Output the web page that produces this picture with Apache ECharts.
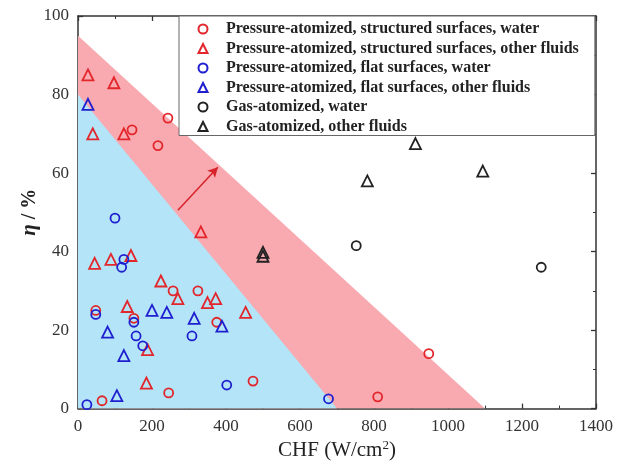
<!DOCTYPE html>
<html>
<head>
<meta charset="utf-8">
<script src="https://cdn.jsdelivr.net/npm/echarts@6/dist/echarts.min.js"></script>
<style>
  html, body { margin: 0; padding: 0; background: #fff; }
  #chart { width: 625px; height: 466px; }
</style>
</head>
<body>
<div id="chart"></div>
<script>
// Spray cooling efficiency vs critical heat flux
const xTicks = [0, 200, 400, 600, 800, 1000, 1200, 1400];
const yTicks = [0, 20, 40, 60, 80, 100];

// Region boundaries [CHF, eta]
const pinkBoundary = [[0, 95], [1100, 0]];
const blueBoundary = [[0, 80], [700, 0]];
const arrowFrom = [270, 50.5];
const arrowTo = [378, 61.5];

// Pressure-atomized, structured surfaces, water
const pStructWater = [
  [146, 71], [243, 74], [216, 67], [48, 25], [257, 30], [324, 30],
  [151, 23], [375, 22], [245, 4], [65, 2], [473, 7], [948, 14], [810, 3]
];
// Pressure-atomized, structured surfaces, other fluids
const pStructOther = [
  [27, 85], [97, 83], [40, 70], [124, 70], [332, 45], [45, 37], [89, 38],
  [143, 39], [224, 32.5], [270, 28], [133, 26], [188, 15], [185, 6.5],
  [372, 28], [350, 27], [453, 24.5]
];
// Pressure-atomized, flat surfaces, water
const pFlatWater = [
  [100, 48.5], [124, 38], [118, 36], [48, 24], [151, 22], [157, 18.5],
  [175, 16], [308, 18.5], [24, 1], [402, 6], [677, 2.5]
];
// Pressure-atomized, flat surfaces, other fluids
const pFlatOther = [
  [27, 77.5], [80, 19.5], [200, 25], [240, 24.5], [314, 23], [124, 13.5],
  [105, 3.3], [389, 21]
];
// Gas-atomized, water
const gasWater = [[752, 41.5], [1252, 36]];
// Gas-atomized, other fluids
const gasOther = [[912, 67.5], [782, 58], [1094, 60.5], [500, 39.8], [500, 38.8]];

const seriesNames = [
  'Pressure-atomized, structured surfaces, water',
  'Pressure-atomized, structured surfaces, other fluids',
  'Pressure-atomized, flat surfaces, water',
  'Pressure-atomized, flat surfaces, other fluids',
  'Gas-atomized, water',
  'Gas-atomized, other fluids'
];

const RED = '#e2262b', BLUE = '#1f1fd0', BLACK = '#222';
const SERIF = '"Liberation Serif", "Times New Roman", serif';

function scatter(name, data, color, symbol) {
  return {
    name, type: 'scatter', data, symbol,
    symbolSize: symbol === 'triangle' ? 11 : 9,
    itemStyle: { color: 'rgba(0,0,0,0)', borderColor: color, borderWidth: 1.8, opacity: 1 },
    z: 5
  };
}

function axisCommon(show) {
  return {
    type: 'value',
    axisLine: { show: true, onZero: false, lineStyle: { color: '#333', width: 1.5 } },
    axisTick: { show: true, inside: true, length: 5, lineStyle: { color: '#333', width: 1.3 } },
    minorTick: { show: true, splitNumber: 2, length: 3, lineStyle: { color: '#333', width: 1 } },
    splitLine: { show: false },
    axisLabel: { show: show, fontFamily: SERIF, fontSize: 17, color: '#333', formatter: v => String(v) }
  };
}

const chart = echarts.init(document.getElementById('chart'), null, { renderer: 'canvas' });

chart.setOption({
  animation: false,
  backgroundColor: '#fff',
  grid: { left: 78, right: 29, top: 16, bottom: 57 },
  xAxis: [
    Object.assign(axisCommon(true), {
      position: 'bottom', min: xTicks[0], max: xTicks[xTicks.length - 1], interval: 200,
      name: 'CHF (W/cm{sup|2})', nameLocation: 'middle', nameGap: 28,
      nameTextStyle: {
        fontFamily: SERIF, fontSize: 21, color: '#222',
        rich: { sup: { fontFamily: SERIF, fontSize: 13, verticalAlign: 'top', padding: [0, 0, 9, 0], color: '#222' } }
      },
      axisLabel: { fontFamily: SERIF, fontSize: 17, color: '#333', margin: 9, formatter: v => String(v) }
    }),
    Object.assign(axisCommon(false), {
      position: 'top', min: xTicks[0], max: xTicks[xTicks.length - 1], interval: 200
    })
  ],
  yAxis: [
    Object.assign(axisCommon(true), {
      position: 'left', min: yTicks[0], max: yTicks[yTicks.length - 1], interval: 20,
      name: '{i|η} / %', nameLocation: 'middle', nameGap: 38, nameRotate: 90,
      nameMoveOverlap: false,
      nameTextStyle: {
        fontFamily: SERIF, fontSize: 20, fontWeight: 'bold', color: '#222',
        rich: { i: { fontFamily: SERIF, fontSize: 21, fontStyle: 'italic', fontWeight: 'bold', color: '#222' } }
      },
      axisLabel: { fontFamily: SERIF, fontSize: 17, color: '#333', margin: 9, formatter: v => String(v) }
    }),
    Object.assign(axisCommon(false), {
      position: 'right', min: yTicks[0], max: yTicks[yTicks.length - 1], interval: 20
    })
  ],
  legend: {
    orient: 'vertical', left: 179, top: 16,
    padding: [5, 16, 1, 18.5],
    itemWidth: 9, itemHeight: 9, itemGap: 3.5,
    backgroundColor: '#fff', borderColor: '#666', borderWidth: 1,
    data: seriesNames,
    textStyle: {
      fontFamily: SERIF, fontSize: 16, fontWeight: 'bold', color: '#222',
      lineHeight: 16, padding: [0, 0, 0, 13.5]
    }
  },
  series: [
    {
      type: 'line', data: pinkBoundary, symbol: 'none', silent: true,
      lineStyle: { width: 0 }, areaStyle: { color: '#f9a9b0', opacity: 1 }, z: 1,
      markLine: {
        silent: true, symbol: ['none', 'arrow'], symbolSize: [8, 10],
        label: { show: false },
        lineStyle: { color: '#d8232a', width: 1.5, type: 'solid' },
        data: [[{ coord: arrowFrom }, { coord: arrowTo }]]
      }
    },
    {
      type: 'line', data: blueBoundary, symbol: 'none', silent: true,
      lineStyle: { width: 0 }, areaStyle: { color: '#b3e4f7', opacity: 1 }, z: 2
    },
    scatter(seriesNames[0], pStructWater, RED, 'circle'),
    scatter(seriesNames[1], pStructOther, RED, 'triangle'),
    scatter(seriesNames[2], pFlatWater, BLUE, 'circle'),
    scatter(seriesNames[3], pFlatOther, BLUE, 'triangle'),
    scatter(seriesNames[4], gasWater, BLACK, 'circle'),
    scatter(seriesNames[5], gasOther, BLACK, 'triangle')
  ]
});
</script>
</body>
</html>
